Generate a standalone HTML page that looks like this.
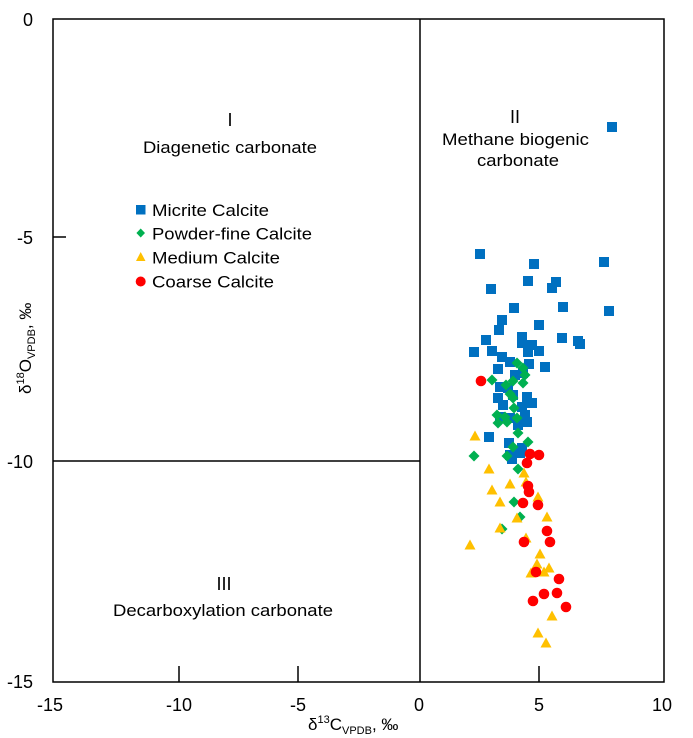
<!DOCTYPE html>
<html>
<head>
<meta charset="utf-8">
<style>
html,body{margin:0;padding:0;background:#fff;}
svg{display:block;}
text{font-family:"Liberation Sans","Noto Sans CJK SC",sans-serif;fill:#000;}
</style>
</head>
<body>
<svg width="693" height="738" viewBox="0 0 693 738" xmlns="http://www.w3.org/2000/svg">
<defs>
<rect id="sq" x="-5" y="-5" width="10" height="10" fill="#0070C0"/>
<polygon id="dm" points="0,-5.5 5.5,0 0,5.5 -5.5,0" fill="#00B050"/>
<polygon id="tr" points="0,-5.5 5.5,4.5 -5.5,4.5" fill="#FFC000"/>
<circle id="ci" r="5.3" fill="#FF0000"/>
</defs>

<!-- plot frame -->
<rect x="53" y="19" width="611" height="663" fill="none" stroke="#000" stroke-width="1.5"/>
<line x1="420" y1="19" x2="420" y2="682" stroke="#000" stroke-width="1.5"/>
<line x1="53" y1="461" x2="420" y2="461" stroke="#000" stroke-width="1.5"/>
<!-- ticks -->
<line x1="53" y1="237" x2="66" y2="237" stroke="#000" stroke-width="1.5"/>
<line x1="179" y1="666" x2="179" y2="682" stroke="#000" stroke-width="1.5"/>
<line x1="298" y1="666" x2="298" y2="682" stroke="#000" stroke-width="1.5"/>
<line x1="539" y1="666" x2="539" y2="682" stroke="#000" stroke-width="1.5"/>

<!-- y tick labels -->
<g font-size="18" text-anchor="end">
<text x="33" y="26">0</text>
<text x="33" y="244">-5</text>
<text x="33" y="468">-10</text>
<text x="33" y="688">-15</text>
</g>
<!-- x tick labels -->
<g font-size="18" text-anchor="middle">
<text x="50" y="711">-15</text>
<text x="179" y="711">-10</text>
<text x="298" y="711">-5</text>
<text x="419" y="711">0</text>
<text x="539" y="711">5</text>
<text x="662" y="711">10</text>
</g>

<!-- x axis title -->
<text x="308" y="730" font-size="17">δ<tspan font-size="11" dy="-7">13</tspan><tspan dy="7">C</tspan><tspan font-size="11" dy="4">VPDB</tspan><tspan dy="-4">, ‰</tspan></text>
<!-- y axis title -->
<text transform="translate(31,394) rotate(-90)" font-size="17">δ<tspan font-size="11" dy="-7">18</tspan><tspan dy="7">O</tspan><tspan font-size="11" dy="4">VPDB</tspan><tspan dy="-4">, ‰</tspan></text>

<!-- region labels -->
<text x="230" y="126" font-size="18" text-anchor="middle" font-family="Liberation Serif, serif">I</text>
<text x="143" y="153" font-size="17" textLength="174" lengthAdjust="spacingAndGlyphs">Diagenetic carbonate</text>
<text x="515" y="123" font-size="18" text-anchor="middle" font-family="Liberation Serif, serif">II</text>
<text x="442" y="145" font-size="17" textLength="147" lengthAdjust="spacingAndGlyphs">Methane biogenic</text>
<text x="477" y="166" font-size="17" textLength="82" lengthAdjust="spacingAndGlyphs">carbonate</text>
<text x="224" y="590" font-size="18" text-anchor="middle" font-family="Liberation Serif, serif">III</text>
<text x="113" y="616" font-size="17" textLength="220" lengthAdjust="spacingAndGlyphs">Decarboxylation carbonate</text>

<!-- legend -->
<rect x="136" y="205" width="9.5" height="9.5" fill="#0070C0"/>
<text x="152" y="216" font-size="17" textLength="117" lengthAdjust="spacingAndGlyphs">Micrite Calcite</text>
<polygon points="140.7,228.5 145,233 140.7,237.5 136.4,233" fill="#00B050"/>
<text x="152" y="239.5" font-size="17" textLength="160" lengthAdjust="spacingAndGlyphs">Powder-fine Calcite</text>
<polygon points="140.7,252 145.5,261 136,261" fill="#FFC000"/>
<text x="152" y="263.5" font-size="17" textLength="128" lengthAdjust="spacingAndGlyphs">Medium Calcite</text>
<circle cx="140.7" cy="281.5" r="5" fill="#FF0000"/>
<text x="152" y="287.5" font-size="17" textLength="122" lengthAdjust="spacingAndGlyphs">Coarse Calcite</text>

<!-- Micrite Calcite -->
<g>
<use href="#sq" x="612" y="127"/><use href="#sq" x="480" y="254"/><use href="#sq" x="534" y="264"/>
<use href="#sq" x="604" y="262"/><use href="#sq" x="528" y="281"/><use href="#sq" x="556" y="282"/>
<use href="#sq" x="552" y="288"/><use href="#sq" x="491" y="289"/><use href="#sq" x="514" y="308"/>
<use href="#sq" x="563" y="307"/><use href="#sq" x="609" y="311"/><use href="#sq" x="502" y="320"/>
<use href="#sq" x="499" y="330"/><use href="#sq" x="539" y="325"/><use href="#sq" x="486" y="340"/>
<use href="#sq" x="522" y="337"/><use href="#sq" x="562" y="338"/><use href="#sq" x="578" y="341"/>
<use href="#sq" x="580" y="344"/><use href="#sq" x="474" y="352"/><use href="#sq" x="492" y="351"/>
<use href="#sq" x="522" y="343"/><use href="#sq" x="532" y="345"/><use href="#sq" x="528" y="352"/>
<use href="#sq" x="539" y="351"/><use href="#sq" x="502" y="357"/><use href="#sq" x="510" y="362"/>
<use href="#sq" x="529" y="364"/><use href="#sq" x="545" y="367"/><use href="#sq" x="498" y="369"/>
<use href="#sq" x="515" y="375"/><use href="#sq" x="523" y="373"/><use href="#sq" x="500" y="387"/>
<use href="#sq" x="508" y="388"/><use href="#sq" x="498" y="398"/><use href="#sq" x="513" y="395"/>
<use href="#sq" x="527" y="397"/><use href="#sq" x="532" y="403"/><use href="#sq" x="503" y="405"/>
<use href="#sq" x="522" y="407"/><use href="#sq" x="500" y="417"/><use href="#sq" x="510" y="418"/>
<use href="#sq" x="525" y="415"/><use href="#sq" x="527" y="422"/><use href="#sq" x="518" y="425"/>
<use href="#sq" x="489" y="437"/><use href="#sq" x="509" y="443"/><use href="#sq" x="522" y="448"/>
<use href="#sq" x="510" y="455"/><use href="#sq" x="520" y="453"/><use href="#sq" x="512" y="459"/>
</g>
<!-- Powder-fine Calcite -->
<g>
<use href="#dm" x="517" y="363"/><use href="#dm" x="523" y="368"/><use href="#dm" x="525" y="375"/>
<use href="#dm" x="523" y="383"/><use href="#dm" x="513" y="381"/><use href="#dm" x="492" y="380"/>
<use href="#dm" x="506" y="385"/><use href="#dm" x="510" y="394"/><use href="#dm" x="513" y="398"/>
<use href="#dm" x="514" y="408"/><use href="#dm" x="497" y="415"/><use href="#dm" x="505" y="417"/>
<use href="#dm" x="517" y="418"/><use href="#dm" x="498" y="423"/><use href="#dm" x="507" y="422"/>
<use href="#dm" x="518" y="433"/><use href="#dm" x="528" y="442"/><use href="#dm" x="513" y="447"/>
<use href="#dm" x="474" y="456"/><use href="#dm" x="507" y="456"/><use href="#dm" x="518" y="469"/>
<use href="#dm" x="514" y="502"/><use href="#dm" x="520" y="517"/><use href="#dm" x="502" y="529"/>
</g>
<!-- Medium Calcite -->
<g>
<use href="#tr" x="475" y="436"/><use href="#tr" x="489" y="469"/><use href="#tr" x="524" y="473"/>
<use href="#tr" x="510" y="484"/><use href="#tr" x="526" y="482"/><use href="#tr" x="492" y="490"/>
<use href="#tr" x="500" y="502"/><use href="#tr" x="538" y="497"/><use href="#tr" x="517" y="518"/>
<use href="#tr" x="547" y="517"/><use href="#tr" x="500" y="528"/><use href="#tr" x="470" y="545"/>
<use href="#tr" x="526" y="538"/><use href="#tr" x="540" y="554"/><use href="#tr" x="537" y="564"/>
<use href="#tr" x="531" y="573"/><use href="#tr" x="544" y="572"/><use href="#tr" x="549" y="568"/>
<use href="#tr" x="552" y="616"/><use href="#tr" x="538" y="633"/><use href="#tr" x="546" y="643"/>
</g>
<!-- Coarse Calcite -->
<g>
<use href="#ci" x="481" y="381"/><use href="#ci" x="530" y="454"/><use href="#ci" x="539" y="455"/>
<use href="#ci" x="527" y="463"/><use href="#ci" x="528" y="486"/><use href="#ci" x="529" y="492"/>
<use href="#ci" x="523" y="503"/><use href="#ci" x="538" y="505"/><use href="#ci" x="547" y="531"/>
<use href="#ci" x="550" y="542"/><use href="#ci" x="524" y="542"/><use href="#ci" x="536" y="572"/>
<use href="#ci" x="559" y="579"/><use href="#ci" x="544" y="594"/><use href="#ci" x="557" y="593"/>
<use href="#ci" x="533" y="601"/><use href="#ci" x="566" y="607"/>
</g>
</svg>
</body>
</html>
